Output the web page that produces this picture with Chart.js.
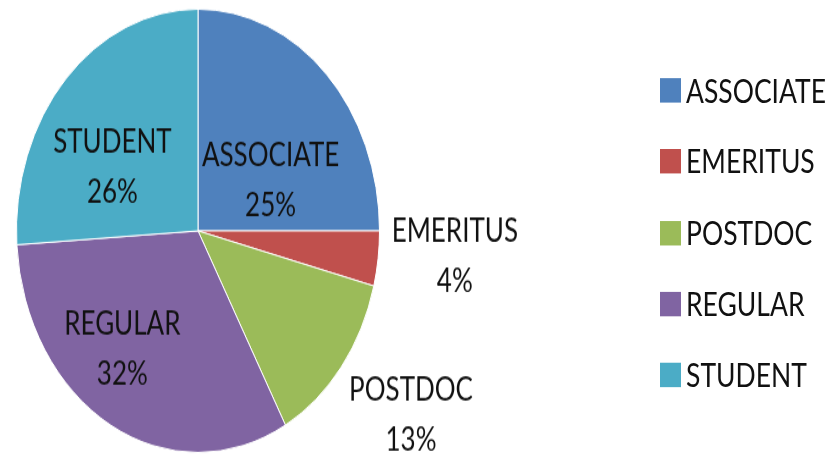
<!DOCTYPE html>
<html lang="en">
<head>
  <meta charset="UTF-8" />
  <title>Members by Category</title>
  <script src="https://cdn.jsdelivr.net/npm/chart.js"></script>
  <style>
    body {
      margin: 0;
      background: #fff;
    }

    .frame {
      width: 838px;
      height: 458px;
      overflow: hidden;
    }

    /* the reference pie is an upright ellipse, so the whole drawing is stretched */
    .stage {
      position: relative;
      width: 838px;
      height: 375px;
      transform: scaleY(1.2213);
      transform-origin: 0 0;
    }

    .legend {
      position: absolute;
      left: 660px;
      top: 64px;
      font-family: Lato, sans-serif;
      font-size: 26.5px;
      color: #111;
    }

    .legend div {
      display: flex;
      align-items: center;
      height: 20px;
      margin-bottom: 38.3px;
    }

    .legend span.box {
      display: inline-block;
      width: 21px;
      height: 20px;
      margin-right: 5px;
    }
  </style>
</head>
<body>
  <div class="frame">
    <div class="stage">
      <canvas id="pie" width="838" height="375"></canvas>
      <div class="legend" id="legend"></div>
    </div>
  </div>

  <script>
    const categories = ["ASSOCIATE", "EMERITUS", "POSTDOC", "REGULAR", "STUDENT"];
    const shares = [25, 4, 13, 32, 26];
    const colors = ["#4f81bd", "#c0504d", "#9bbb59", "#8064a2", "#4bacc6"];

    // where each label sits: radius as a fraction of the pie, angle shift from the slice middle
    const labelPlacement = [
      { r: 0.46, da: 15.4 },
      { r: 1.42, da: -2.4 },
      { r: 1.44, da: -2.4 },
      { r: 0.68, da: 9 },
      { r: 0.55, da: -12.2 }
    ];

    const sliceLabels = {
      id: "sliceLabels",
      afterDatasetsDraw(chart) {
        const ctx = chart.ctx;
        const meta = chart.getDatasetMeta(0);
        const total = shares.reduce((a, b) => a + b, 0);
        ctx.save();
        ctx.font = "26px Lato, sans-serif";
        ctx.fillStyle = "#111";
        ctx.textAlign = "center";
        ctx.textBaseline = "middle";
        meta.data.forEach((arc, i) => {
          const p = labelPlacement[i];
          const mid = (arc.startAngle + arc.endAngle) / 2 + p.da * Math.PI / 180;
          const r = arc.outerRadius * p.r;
          const x = arc.x + Math.cos(mid) * r;
          const y = arc.y + Math.sin(mid) * r;
          const pct = Math.round(shares[i] / total * 100) + "%";
          ctx.fillText(categories[i], x, y - 20.5);
          ctx.fillText(pct, x, y + 20.5);
        });
        ctx.restore();
      }
    };

    const chart = new Chart(document.getElementById("pie"), {
      type: "pie",
      data: {
        labels: categories,
        datasets: [{
          data: shares,
          backgroundColor: colors,
          borderColor: "#ffffff",
          borderWidth: 1
        }]
      },
      options: {
        responsive: false,
        animation: false,
        layout: { padding: { left: 16, right: 458, top: 7, bottom: 4 } },
        plugins: {
          legend: { display: false },
          tooltip: { enabled: false }
        }
      },
      plugins: [sliceLabels]
    });

    // legend built from the chart's own legend items
    const legendEl = document.getElementById("legend");
    chart.options.plugins.legend.labels.generateLabels(chart).forEach(item => {
      const row = document.createElement("div");
      const box = document.createElement("span");
      box.className = "box";
      box.style.background = item.fillStyle;
      row.appendChild(box);
      row.appendChild(document.createTextNode(item.text));
      legendEl.appendChild(row);
    });
  </script>
</body>
</html>
